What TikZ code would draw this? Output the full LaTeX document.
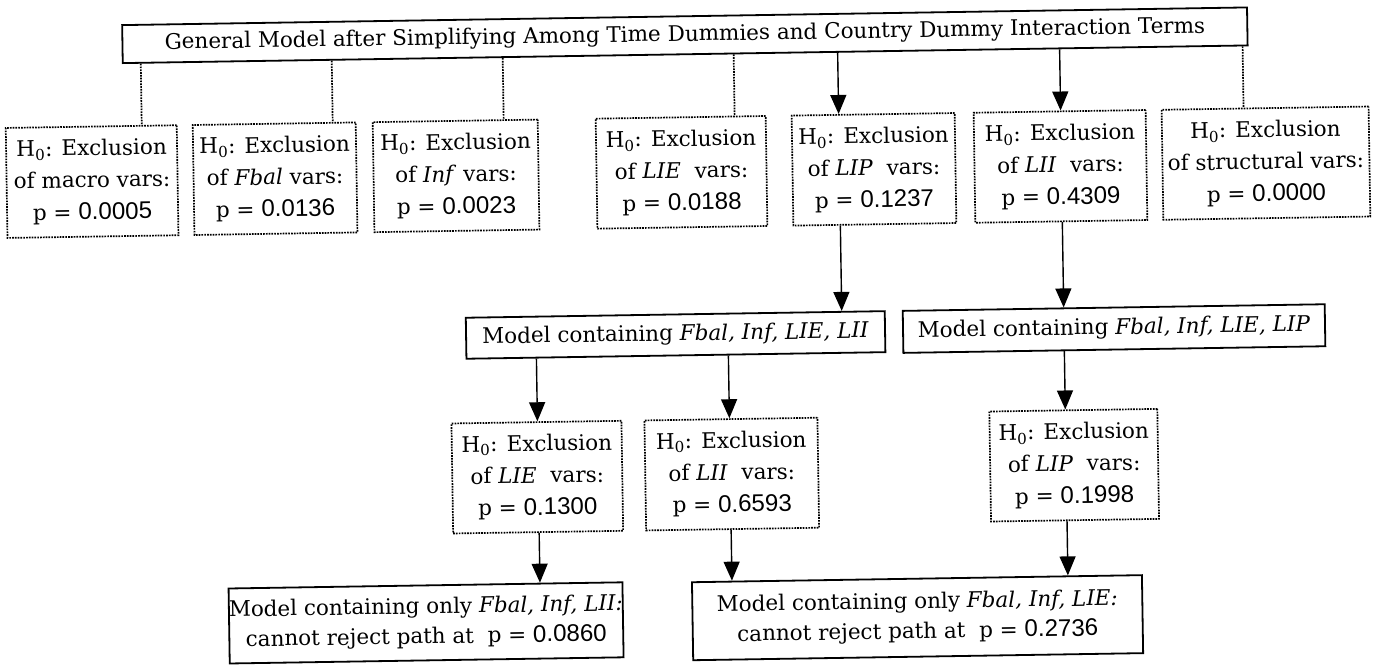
\documentclass[tikz,border=0pt]{standalone}
\usepackage{fontspec}
\setmainfont{DejaVu Serif}
\newfontfamily\digitfont[Scale=1.12]{Liberation Sans}
\usetikzlibrary{arrows.meta,calc}

% first line of every exclusion test
\newcommand{\testhead}{H\textsubscript{0}: Exclusion}
% p-value with sans digits
\newcommand{\pvalue}[1]{p = {\digitfont #1}}
% vertical connector from the bottom edge of #2 to the top edge of #3,
% running along the column given by coordinate #4
\newcommand{\vlink}[4][]{%
  \draw[#1] ($(#2.south west)!(#4)!(#2.south east)$) --
            ($(#3.north west)!(#4)!(#3.north east)$);}

\begin{document}
\begin{tikzpicture}[x=1pt,y=-1pt,
  every node/.style={font=\fontsize{21.5}{32}\selectfont, align=center, inner sep=0pt},
  solidbox/.style={draw, line width=1.8pt},
  testbox/.style={draw, line width=1.7pt, dash pattern=on 1.7pt off 1.1pt,
                  minimum height=110pt},
  dotlink/.style={line width=1.7pt, dash pattern=on 1.7pt off 1.1pt},
  arrowlink/.style={line width=1.4pt, -{Triangle[width=16pt,length=19pt]}}]

\fill[white] (0,0) rectangle (1375,664);
\useasboundingbox (0,0) rectangle (1375,664);

\begin{scope}[rotate around={0.9:(640,330)}, transform shape]
  % columns of the connectors
  \coordinate (c1) at (145,0);
  \coordinate (c2) at (336,0);
  \coordinate (c3) at (507,0);
  \coordinate (c4) at (738,0);
  \coordinate (c7) at (1247,0);
  \coordinate (k1) at (536,0);
  \coordinate (k2) at (728,0);
  \coordinate (kA) at (842,0);
  \coordinate (kB) at (1064,0);

  % general model
  \node[solidbox, minimum width=1125pt, minimum height=38pt] (general) at (689.5,36)
    {General Model after Simplifying Among Time Dummies and Country Dummy Interaction Terms};

  % first round of exclusion tests
  \node[testbox, minimum width=171pt] (macro) at (94.5,173)
    {\testhead\\of macro vars:\\\pvalue{0.0005}};
  \node[testbox, minimum width=163pt] (fbal) at (277.5,173)
    {\testhead\\of \textit{Fbal} vars:\\\pvalue{0.0136}};
  \node[testbox, minimum width=165pt] (inf) at (458.5,173)
    {\testhead\\of \textit{Inf} vars:\\\pvalue{0.0023}};
  \node[testbox, minimum width=170pt] (lie) at (684,173)
    {\testhead\\of \textit{LIE}\ \ vars:\\\pvalue{0.0188}};
  \node[testbox, minimum width=163pt] (lip) at (876.5,173)
    {\testhead\\of \textit{LIP}\ \ vars:\\\pvalue{0.1237}};
  \node[testbox, minimum width=172pt] (lii) at (1063,173)
    {\testhead\\of \textit{LII}\ \ vars:\\\pvalue{0.4309}};
  \node[testbox, minimum width=207pt] (struct) at (1268.5,173)
    {\testhead\\of structural vars:\\\pvalue{0.0000}};

  % reduced models
  \node[solidbox, minimum width=419pt, minimum height=41pt] (modelA) at (675.5,335.5)
    {Model containing \textit{Fbal, Inf, LIE, LII}};
  \node[solidbox, minimum width=422pt, minimum height=42pt] (modelB) at (1114,336)
    {Model containing \textit{Fbal, Inf, LIE, LIP}};

  % second round of exclusion tests
  \node[testbox, minimum width=170pt] (lie2) at (535,475.5)
    {\testhead\\of \textit{LIE}\ \ vars:\\\pvalue{0.1300}};
  \node[testbox, minimum width=173pt] (lii2) at (729.5,475.5)
    {\testhead\\of \textit{LII}\ \ vars:\\\pvalue{0.6593}};
  \node[testbox, minimum width=168pt] (lip2) at (1072,472)
    {\testhead\\of \textit{LIP}\ \ vars:\\\pvalue{0.1998}};

  % final models
  \node[solidbox, minimum width=385pt, minimum height=75pt,
        font=\fontsize{21.5}{30}\selectfont] (finalA) at (421.5,619.5)
    {Model containing only \textit{Fbal, Inf, LII:}\\cannot reject path at\ \ \pvalue{0.0860}};
  \node[solidbox, minimum width=450pt, minimum height=78pt,
        font=\fontsize{21.5}{30}\selectfont] (finalB) at (913,622)
    {Model containing only \textit{Fbal, Inf, LIE:}\\cannot reject path at\ \ \pvalue{0.2736}};

  % rejected exclusions
  \vlink[dotlink]{general}{macro}{c1}
  \vlink[dotlink]{general}{fbal}{c2}
  \vlink[dotlink]{general}{inf}{c3}
  \vlink[dotlink]{general}{lie}{c4}
  \vlink[dotlink]{general}{struct}{c7}

  % accepted exclusions
  \vlink[arrowlink]{general}{lip}{kA}
  \vlink[arrowlink]{general}{lii}{kB}
  \vlink[arrowlink]{lip}{modelA}{kA}
  \vlink[arrowlink]{lii}{modelB}{kB}
  \vlink[arrowlink]{modelA}{lie2}{k1}
  \vlink[arrowlink]{modelA}{lii2}{k2}
  \vlink[arrowlink]{modelB}{lip2}{kB}
  \vlink[arrowlink]{lie2}{finalA}{k1}
  \vlink[arrowlink]{lii2}{finalB}{k2}
  \vlink[arrowlink]{lip2}{finalB}{kB}
\end{scope}
\end{tikzpicture}
\end{document}
